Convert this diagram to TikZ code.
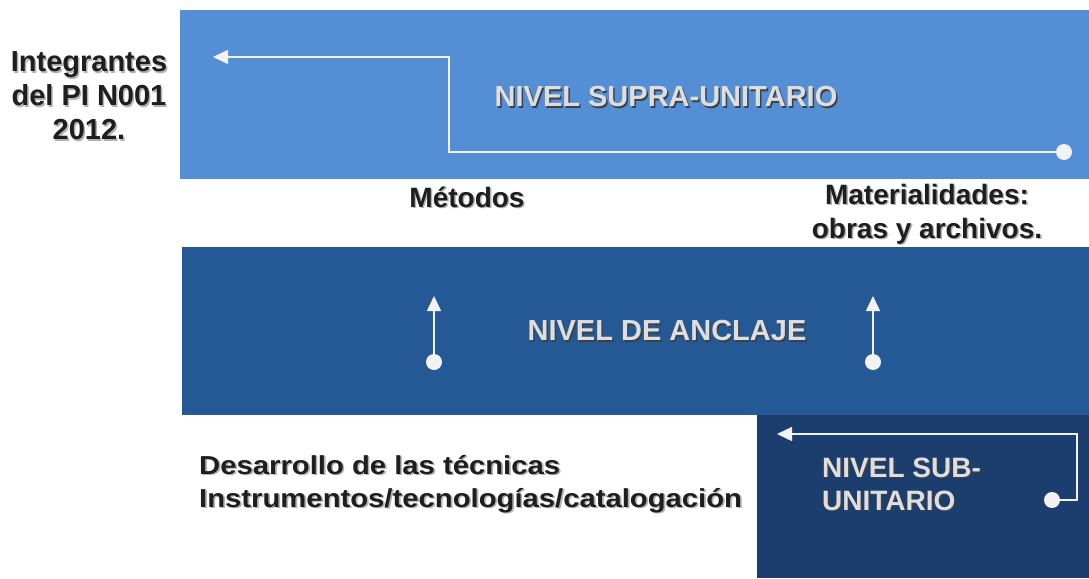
\documentclass[tikz,border=0pt]{standalone}
\usepackage{fontspec}
\setmainfont{Liberation Sans}
\usetikzlibrary{arrows.meta}
\definecolor{supra}{RGB}{84,142,213}
\definecolor{anclaje}{RGB}{37,89,150}
\definecolor{subu}{RGB}{27,62,110}
\definecolor{lighttxt}{RGB}{222,222,222}
\definecolor{darktxt}{RGB}{30,30,30}
\definecolor{conncol}{RGB}{242,242,242}
\newcommand\shtext[5]{%
  \node[#3, text=#4, xshift=1.5pt, yshift=-1.5pt] (#1-s) at (#2) {#5};
  \node[#3] (#1) at (#2) {#5};}
\begin{document}
\begin{tikzpicture}[x=1pt,y=-1pt,
  band/.style={fill=#1, draw=none},
  dtxt/.style={inner sep=0pt, text=darktxt, font=\bfseries\fontsize{28}{34}\selectfont},
  ltxt/.style={inner sep=0pt, text=lighttxt, font=\bfseries\fontsize{29}{33}\selectfont},
  conn/.style={draw=conncol, line width=1.5pt},
  tip/.style={-{Triangle[length=15pt,width=14pt]}},
  dot/.style={circle, fill=conncol, draw=none, minimum size=16pt, inner sep=0pt}]
\useasboundingbox (0,0) rectangle (1089,578);
\fill[white] (0,0) rectangle (1089,578);
% bands
\path[band=supra] (180,10) rectangle (1089,179);
\path[band=anclaje] (182,247) rectangle (1089,415);
\path[band=subu] (757,415) rectangle (1089,578);
% texts
\shtext{integ}{89,96}{dtxt, align=center, font=\bfseries\fontsize{29}{34}\selectfont}{gray!60}{Integrantes\\del PI N001\\2012.}
\shtext{supra}{666,97}{ltxt}{black!75}{NIVEL SUPRA-UNITARIO}
\shtext{metodos}{467,197}{dtxt}{gray!60}{Métodos}
\shtext{mater}{927,214}{dtxt, align=center}{gray!60}{Materialidades:\\obras y archivos.}
\shtext{ancla}{667,331}{ltxt}{black!75}{NIVEL DE ANCLAJE}
\shtext{desa}{199,484}{dtxt, anchor=west, align=left, font=\bfseries\fontsize{26}{33}\selectfont, xscale=1.125, transform shape}{gray!60}{Desarrollo de las técnicas\\Instrumentos/tecnologías/catalogación}
\shtext{subt}{822,484}{ltxt, anchor=west, align=left, font=\bfseries\fontsize{28}{33}\selectfont}{black!75}{NIVEL SUB-\\UNITARIO}
% connectors: supra
\node[dot] (d1) at (1064,152) {};
\coordinate (a1) at (213,57);
\draw[conn, tip] (d1.center) -- (449,152) -- (449,57) -- (a1);
% anclaje
\node[dot] (d2) at (434,362) {};
\coordinate (a2) at (434,296);
\draw[conn, tip] (d2.center) -- (a2);
\node[dot] (d3) at (873,362) {};
\coordinate (a3) at (873,296);
\draw[conn, tip] (d3.center) -- (a3);
% sub-unitario
\node[dot] (d4) at (1052,500) {};
\coordinate (a4) at (777,434);
\draw[conn, tip] (d4.center) -- (1077,500) -- (1077,434) -- (a4);
\end{tikzpicture}
\end{document}
